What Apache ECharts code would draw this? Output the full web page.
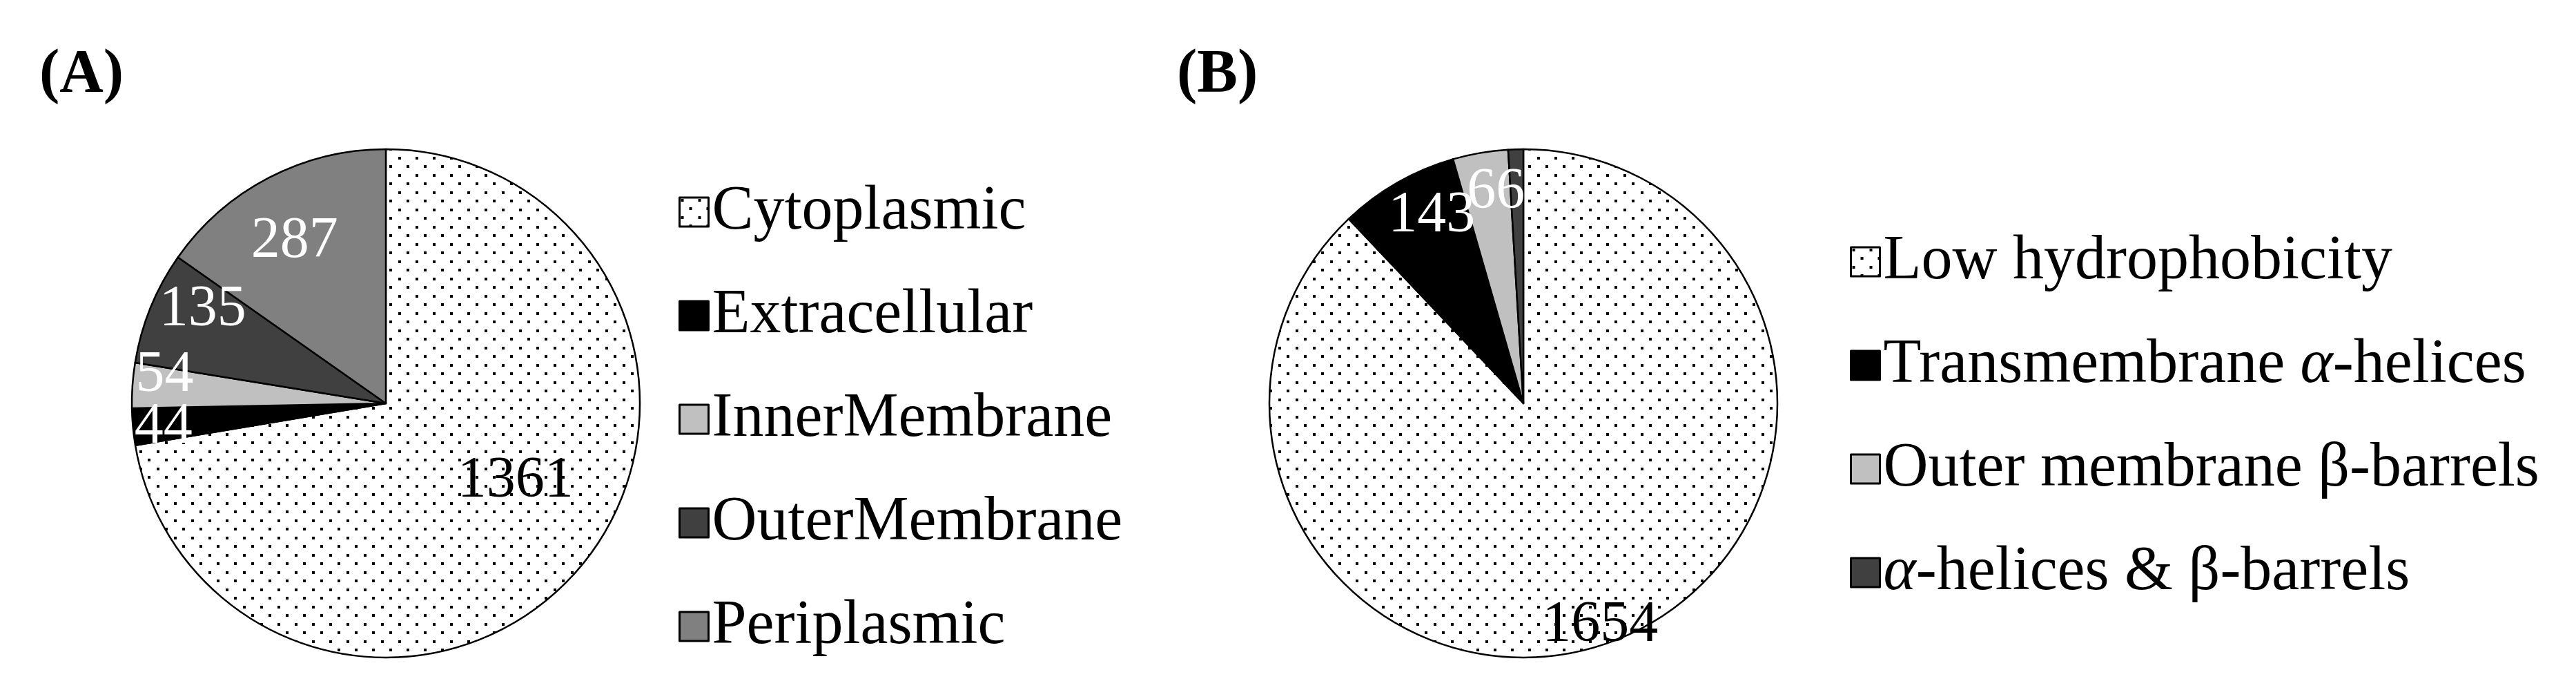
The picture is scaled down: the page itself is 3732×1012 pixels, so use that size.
<!DOCTYPE html>
<html>
<head>
<meta charset="utf-8">
<script src="https://cdn.jsdelivr.net/npm/echarts@6/dist/echarts.min.js"></script>
<style>
html,body{margin:0;padding:0;background:#fff;}
#chart{width:3732px;height:1012px;}
</style>
</head>
<body>
<div id="chart"></div>
<script>
// ---- data ----
const namesA = ['Cytoplasmic', 'Extracellular', 'InnerMembrane', 'OuterMembrane', 'Periplasmic'];
const valuesA = [1361, 44, 54, 135, 287];
const namesB = ['Low hydrophobicity', 'Transmembrane α-helices', 'Outer membrane β-barrels', 'α-helices & β-barrels'];
const valuesB = [1654, 143, 66, 18];
const panelTitles = ['(A)', '(B)'];

// ---- styling (not data) ----
function dotPattern() {
  const c = document.createElement('canvas');
  c.width = 25; c.height = 25;
  const g = c.getContext('2d');
  g.fillStyle = '#ffffff'; g.fillRect(0, 0, 25, 25);
  g.fillStyle = '#000000';
  g.fillRect(2, 2, 4, 4);
  g.fillRect(14, 14, 4, 4);
  return c;
}
const dots = { image: dotPattern(), repeat: 'repeat' };
const fillsA = [dots, '#000000', '#c0c0c0', '#404040', '#808080'];
const fillsB = [dots, '#000000', '#c0c0c0', '#404040'];
const labelColorA = ['#000', '#fff', '#fff', '#fff', '#fff'];
const labelColorB = ['#000', '#fff', '#fff', '#fff'];
const labelShiftA = [[45, -8], [-136, 18], [-134, -27], [-92, -65], [-46, -68]];
const labelShiftB = [[42, 148], [-40, -109], [-8, -121], [0, 0]];
const labelShowB = [true, true, true, false];

const FONT = 'Liberation Serif';

function buildData(names, values, fills, lcolors, shifts, shows) {
  return names.map((n, i) => ({
    name: n,
    value: values[i],
    itemStyle: { color: fills[i] },
    label: {
      show: shows ? shows[i] : true,
      color: lcolors[i],
      offset: shifts[i]
    }
  }));
}

function pieSeries(center, data) {
  return {
    type: 'pie',
    center: center,
    radius: 368,
    startAngle: 90,
    clockwise: true,
    avoidLabelOverlap: false,
    animation: false,
    emphasis: { disabled: true },
    itemStyle: { borderColor: '#000', borderWidth: 2.5 },
    label: {
      show: true,
      position: 'inside',
      formatter: '{c}',
      fontFamily: FONT,
      fontSize: 84
    },
    labelLayout: { hideOverlap: false },
    labelLine: { show: false },
    data: data
  };
}

const legendText = {
  fontFamily: FONT,
  fontSize: 90,
  lineHeight: 100,
  color: '#000',
  rich: {
    n: { fontFamily: FONT, fontSize: 90, color: '#000' },
    i: { fontFamily: FONT, fontSize: 90, fontStyle: 'italic', color: '#000' }
  }
};
function legendFormatter(name) {
  if (name.indexOf('α') < 0) return name;
  return name.split('α').map(s => s ? '{n|' + s + '}' : '').join('{i|α}');
}

const chart = echarts.init(document.getElementById('chart'), null, { renderer: 'canvas' });
chart.setOption({
  backgroundColor: '#ffffff',
  animation: false,
  title: [
    { text: panelTitles[0], left: 52, top: 60, textStyle: { fontFamily: FONT, fontWeight: 'bold', fontSize: 88, color: '#000' } },
    { text: panelTitles[1], left: 1700, top: 60, textStyle: { fontFamily: FONT, fontWeight: 'bold', fontSize: 88, color: '#000' } }
  ],
  legend: [
    {
      orient: 'vertical', left: 978, top: 252,
      itemWidth: 42, itemHeight: 42, itemGap: 50,
      icon: 'rect',
      itemStyle: { borderColor: '#000', borderWidth: 3 },
      selectedMode: false,
      data: namesA,
      textStyle: legendText,
      formatter: legendFormatter
    },
    {
      orient: 'vertical', left: 2675, top: 324,
      itemWidth: 42, itemHeight: 42, itemGap: 50,
      icon: 'rect',
      itemStyle: { borderColor: '#000', borderWidth: 3 },
      selectedMode: false,
      data: namesB,
      textStyle: legendText,
      formatter: legendFormatter
    }
  ],
  series: [
    pieSeries([559, 584], buildData(namesA, valuesA, fillsA, labelColorA, labelShiftA)),
    pieSeries([2207, 584], buildData(namesB, valuesB, fillsB, labelColorB, labelShiftB, labelShowB))
  ]
});
</script>
</body>
</html>
